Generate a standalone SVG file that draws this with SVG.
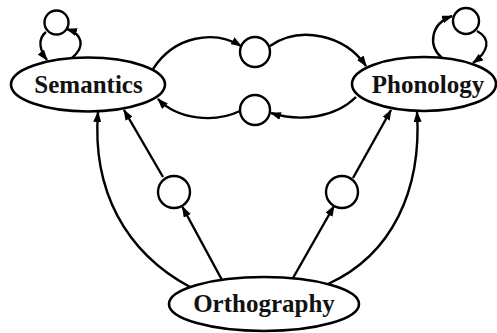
<svg xmlns="http://www.w3.org/2000/svg" width="497" height="333" viewBox="0 0 497 333">
<style>
.node{fill:#fff;stroke:#000;stroke-width:2.6}
.unit{fill:#fff;stroke:#000;stroke-width:2.4}
.lbl{font-family:"Liberation Serif","Times New Roman",serif;font-weight:bold;font-size:25px;text-anchor:middle;fill:#111}
.edge{fill:none;stroke:#000;stroke-width:2.4;marker-end:url(#arr)}
</style>
<defs>
<marker id="arr" markerUnits="userSpaceOnUse" markerWidth="11" markerHeight="8" refX="10" refY="4" orient="auto">
<path d="M0,0 L11,4 L0,8 z" fill="#000"/>
</marker>
</defs>
<g id="connectors">
<path class="edge" d="M72,58 C86,46 82,34 67,29"/>
<path class="edge" d="M46,32 C37,39 40,51 47,60"/>
<path class="edge" d="M442,58 C428,46 430,24 452,16"/>
<path class="edge" d="M477,31 C492,39 488,52 473,63"/>
<path class="edge" d="M153,69 C175,35 215,30 241,46"/>
<path class="edge" d="M270,46 C300,25 345,35 366,66"/>
<path class="edge" d="M356,97 C335,118 300,122 271,113"/>
<path class="edge" d="M240,111 C215,123 178,120 158,99"/>
<path class="edge" d="M163,177 L124,110"/>
<path class="edge" d="M222,280 L182.5,207"/>
<path class="edge" d="M190,287 C125,252 92,190 98,112"/>
<path class="edge" d="M293,278 L334,206"/>
<path class="edge" d="M353,178 L391,110"/>
<path class="edge" d="M328,284 C392,255 422,190 417,112"/>
</g>
<g id="semantics">
<ellipse class="node" cx="88" cy="84.5" rx="77" ry="27"/>
<text class="lbl" x="88.5" y="93">Semantics</text>
</g>
<g id="phonology">
<ellipse class="node" cx="424" cy="84" rx="72" ry="27"/>
<text class="lbl" x="428" y="93">Phonology</text>
</g>
<g id="orthography">
<ellipse class="node" cx="264" cy="304" rx="95" ry="27"/>
<text class="lbl" x="264" y="312">Orthography</text>
</g>
<g id="sem-loop"><circle class="unit" cx="56.5" cy="22.5" r="12"/></g>
<g id="pho-loop"><circle class="unit" cx="466" cy="21" r="13"/></g>
<g id="sem-to-pho"><circle class="unit" cx="255" cy="52" r="15"/></g>
<g id="pho-to-sem"><circle class="unit" cx="255" cy="110" r="15"/></g>
<g id="orth-to-sem"><circle class="unit" cx="174" cy="192" r="16"/></g>
<g id="orth-to-pho"><circle class="unit" cx="342" cy="192" r="16"/></g>
</svg>
